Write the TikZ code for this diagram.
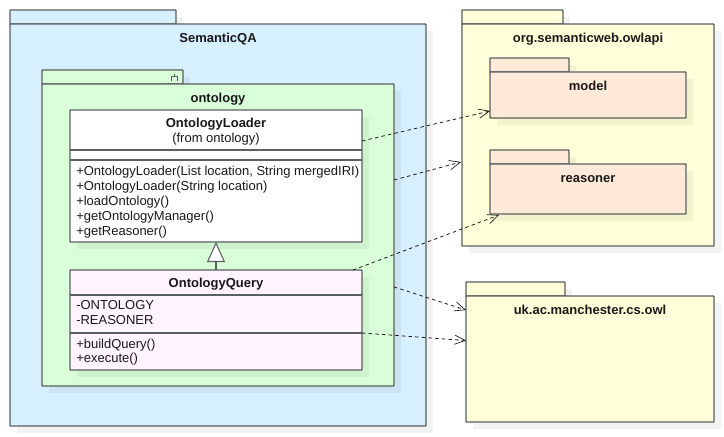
\documentclass[tikz,border=0pt]{standalone}
\usepackage{fontspec}
\setmainfont{Liberation Sans}
\usetikzlibrary{arrows.meta,calc}
\definecolor{edgeC}{HTML}{5A5F5F}
\definecolor{blueF}{HTML}{D7F0FF}
\definecolor{greenF}{HTML}{D9FFD9}
\definecolor{yellowF}{HTML}{FFFFD9}
\definecolor{peachF}{HTML}{FFE9D9}
\definecolor{pinkF}{HTML}{FFF4FF}
\tikzset{
  x=0.75pt,y=-0.75pt,
  shape box/.style={draw=edgeC,line width=1.1pt,rectangle,inner sep=0pt,outer sep=0pt,rounded corners=0.5pt},
  shade box/.style={fill=black,fill opacity=0.05,draw=none},
  sep line/.style={draw=edgeC,line width=1.1pt},
  title/.style={font=\bfseries\fontsize{9.75}{11}\selectfont,anchor=base,inner sep=0pt,text=black!90},
  plain/.style={font=\fontsize{9.75}{11}\selectfont,anchor=base,inner sep=0pt,text=black!90},
  member/.style={font=\fontsize{9.75}{11}\selectfont,anchor=base west,inner sep=0pt,text=black!90},
  dep/.style={draw=black!90,line width=0.6pt,dash pattern=on 2.6pt off 2.4pt,
    -{Straight Barb[length=8pt,width=7pt,line width=0.5pt]}},
  gen/.style={draw=edgeC,line width=1.1pt,
    -{Triangle[open,fill=white,length=15pt,width=13.5pt,line width=0.8pt]}}
}
% #1 name, #2 fill, #3 x0, #4 y0, #5 x1, #6 y1, #7 tab right x
\newcommand{\pkgbox}[7]{%
  \fill[shade box] (#3+7,#4-7) rectangle (#7+7,#4);
  \fill[shade box] (#3+7,#4+7) rectangle (#5+7,#6+7);
  \node[shape box,fill=#2,minimum width={(#7-#3)*0.75pt},minimum height={14*0.75pt},anchor=south west] (#1tab) at (#3,#4) {};
  \node[shape box,fill=#2,minimum width={(#5-#3)*0.75pt},minimum height={(#6-#4)*0.75pt},anchor=north west] (#1) at (#3,#4) {};
}
\newcommand{\classbox}[6]{%
  \fill[shade box] (#3+7,#4+7) rectangle (#5+7,#6+7);
  \node[shape box,fill=#2,minimum width={(#5-#3)*0.75pt},minimum height={(#6-#4)*0.75pt},anchor=north west] (#1) at (#3,#4) {};
}
\begin{document}
\begin{tikzpicture}
\useasboundingbox (0,0) rectangle (724,436);
\fill[white] (0,0) rectangle (724,436);

\pkgbox{semqa}{blueF}{10}{24}{426}{426}{176}
\node[title] (semqaT) at (218,42.5) {SemanticQA};

\pkgbox{onto}{greenF}{42}{84}{394}{386}{183}
\node[title] (ontoT) at (218,102.5) {ontology};
\draw[sep line] (174.5,73.5) -- (174.5,76.5) (171.5,80.5) -- (171.5,76.5) -- (177.5,76.5) -- (177.5,80.5);

\classbox{loader}{white}{70}{110}{362}{242}{}
\draw[sep line] (70,150) -- (362,150) (70,160) -- (362,160);
\node[title] (loaderT) at (216,127.5) {OntologyLoader};
\node[plain] (loaderS) at (216,142) {(from ontology)};
\node[member] (l1) at (76,175.5) {+OntologyLoader(List location, String mergedIRI)};
\node[member] (l2) at (76,190.5) {+OntologyLoader(String location)};
\node[member] (l3) at (76,205.5) {+loadOntology()};
\node[member] (l4) at (76,220.5) {+getOntologyManager()};
\node[member] (l5) at (76,235.5) {+getReasoner()};

\classbox{query}{pinkF}{70}{270}{362}{370}{}
\draw[sep line] (70,295) -- (362,295) (70,333) -- (362,333);
\node[title] (queryT) at (216,287.5) {OntologyQuery};
\node[member] (q1) at (76,309.5) {-ONTOLOGY};
\node[member] (q2) at (76,324.5) {-REASONER};
\node[member] (q3) at (76,348) {+buildQuery()};
\node[member] (q4) at (76,362.5) {+execute()};

\pkgbox{owlapi}{yellowF}{462}{24}{714}{246}{563}
\node[title] (owlapiT) at (588,42.5) {org.semanticweb.owlapi};
\pkgbox{model}{peachF}{490}{72}{686}{118}{569}
\node[title] (modelT) at (588,90.5) {model};
\pkgbox{reasoner}{peachF}{490}{164}{686}{214}{569}
\node[title] (reasonerT) at (588,182.5) {reasoner};

\pkgbox{uk}{yellowF}{466}{296}{714}{422}{565}
\node[title] (ukT) at (590,314.5) {uk.ac.manchester.cs.owl};

\draw[gen] (query.north) -- (loader.south);
\draw[dep] ($(loader.east)+(0,-35)$) -- ($(model.west)+(0,16)$);
\draw[dep] ($(onto.east)+(0,-55)$) -- ($(owlapi.west)+(-1,27)$);
\draw[dep] ($(query.north east)+(-9,0)$) -- ($(reasoner.south west)+(9,1)$);
\draw[dep] ($(onto.east)+(0,52)$) -- ($(uk.west)+(0,-49)$);
\draw[dep] ($(query.east)+(0,13)$) -- ($(uk.west)+(0,-18.5)$);
\end{tikzpicture}
\end{document}
